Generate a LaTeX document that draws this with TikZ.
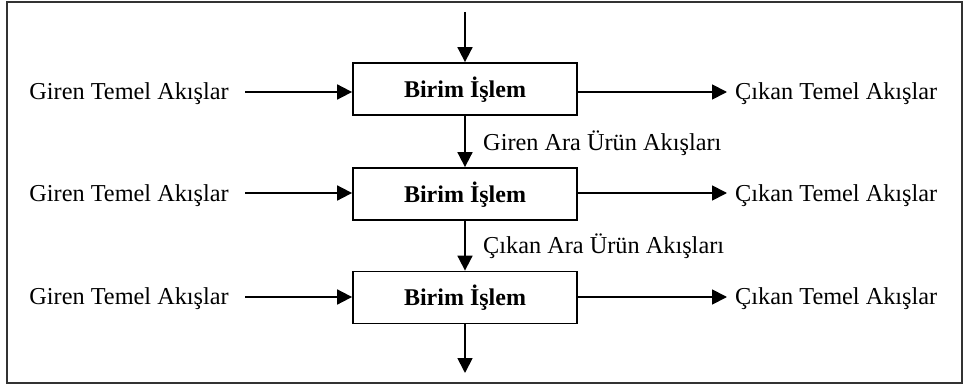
\documentclass[tikz,border=0pt]{standalone}
\usepackage{fontspec}
\setmainfont{Liberation Serif}
\usetikzlibrary{arrows.meta}
\begin{document}
\begin{tikzpicture}[x=1pt,y=-1pt,
  flow/.style={line width=1.8pt,-{Triangle[length=15pt,width=15pt]}},
  unit/.style={draw,line width=1.8pt,minimum width=224pt,minimum height=52pt,inner sep=0pt},
  bt/.style={inner sep=0pt,anchor=base,font=\fontsize{24}{28}\selectfont\bfseries},
  lbl/.style={inner sep=0pt,font=\fontsize{24.3}{28}\selectfont}]
\useasboundingbox (0,0) rectangle (969,385);
\draw[line width=1.8pt,draw=black!80] (7,2) rectangle (962,383);
\node[unit] (b1) at (465,89) {};
\node[unit] (b2) at (465,194) {};
\node[unit] (b3) at (465,297.5) {};
\node[bt] (t1) at (465,98) {Birim İşlem};
\node[bt] (t2) at (465,202) {Birim İşlem};
\node[bt] (t3) at (465,305) {Birim İşlem};
\coordinate (top) at (465,12);
\coordinate (bot) at (465,373);
\draw[flow] (top) -- (b1.north);
\draw[flow] (b1.south) -- (b2.north);
\draw[flow] (b2.south) -- (b3.north);
\draw[flow] (b3.south) -- (bot);
\foreach \i/\y/\yb in {1/92/100,2/193/201,3/297/304}{
  \node[lbl,anchor=base east] (gi\i) at (229,\yb) {Giren Temel Akışlar};
  \node[lbl,anchor=base west] (co\i) at (735,\yb) {Çıkan Temel Akışlar};
  \coordinate (ls\i) at (245,\y);
  \coordinate (re\i) at (727,\y);
  \draw[flow] (ls\i) -- (b\i.west |- ls\i);
  \draw[flow] (b\i.east |- re\i) -- (re\i);
}
\node[lbl,anchor=base west] (m1) at (483,150) {Giren Ara Ürün Akışları};
\node[lbl,anchor=base west] (m2) at (483,253) {Çıkan Ara Ürün Akışları};
\end{tikzpicture}
\end{document}
